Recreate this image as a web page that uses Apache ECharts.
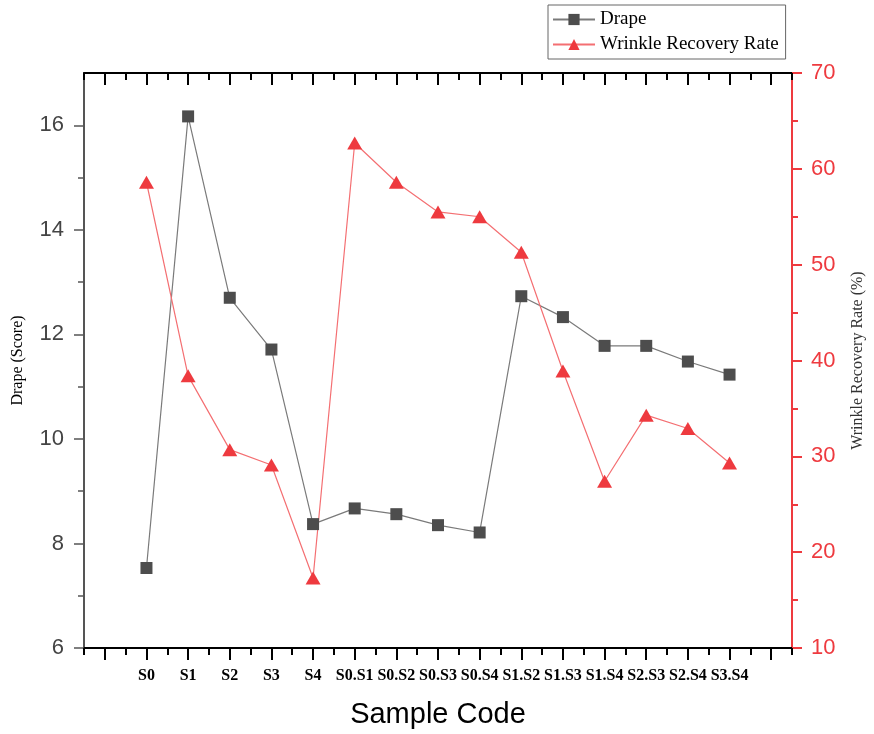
<!DOCTYPE html>
<html>
<head>
<meta charset="utf-8">
<script src="https://cdn.jsdelivr.net/npm/echarts@6/dist/echarts.min.js"></script>
<style>html,body{margin:0;padding:0;background:#fff;}#c{width:874px;height:734px;}</style>
</head>
<body>
<div id="c"></div>
<script>
const categories = ['S0','S1','S2','S3','S4','S0.S1','S0.S2','S0.S3','S0.S4','S1.S2','S1.S3','S1.S4','S2.S3','S2.S4','S3.S4'];
const drape = [7.53,16.17,12.70,11.71,8.37,8.67,8.56,8.35,8.21,12.73,12.33,11.78,11.78,11.48,11.23];
const wrinkle = [58.6,38.4,30.7,29.1,17.3,62.7,58.6,55.5,55.0,51.3,38.9,27.4,34.3,32.9,29.3];
const leftTicks = [6,8,10,12,14,16];
const leftMinor = [7,9,11,13,15];

const cats = [''].concat(categories, [' ']);
const pad = a => [null].concat(a, [null]);

const chart = echarts.init(document.getElementById('c'), null, {renderer:'canvas'});
const xBase = {type:'category', data:cats, boundaryGap:true};
chart.setOption({
  animation:false,
  backgroundColor:'#fff',
  grid:{left:84, right:75, top:73, bottom:84, containLabel:false},
  legend:{
    orient:'vertical', left:548, top:5,
    borderColor:'#666', borderWidth:1, padding:[5,7,5,4], itemGap:6,
    itemWidth:42, itemHeight:14,
    textStyle:{fontFamily:'Liberation Serif', fontSize:19, color:'#000'},
    data:['Drape','Wrinkle Recovery Rate']
  },
  xAxis:[
    Object.assign({}, xBase, {position:'bottom',
      axisLine:{lineStyle:{color:'#000', width:2}},
      axisTick:{show:true, alignWithLabel:true, interval:0, length:12, inside:false, lineStyle:{color:'#000', width:2}},
      axisLabel:{interval:0, margin:20, fontFamily:'Liberation Serif', fontWeight:'bold', fontSize:16, color:'#000'},
      name:'Sample Code', nameLocation:'middle', nameGap:52,
      nameTextStyle:{fontFamily:'Liberation Sans', fontSize:29, color:'#000'},
      splitLine:{show:false}}),
    Object.assign({}, xBase, {position:'bottom',
      axisLine:{show:false},
      axisTick:{show:true, interval:0, length:7, lineStyle:{color:'#000', width:2}},
      axisLabel:{show:false}, splitLine:{show:false}}),
    Object.assign({}, xBase, {position:'top',
      axisLine:{lineStyle:{color:'#000', width:2}},
      axisTick:{show:true, alignWithLabel:true, interval:0, length:12, inside:true, lineStyle:{color:'#000', width:2}},
      axisLabel:{show:false}, splitLine:{show:false}}),
    Object.assign({}, xBase, {position:'top',
      axisLine:{show:false},
      axisTick:{show:true, interval:0, length:7, inside:true, lineStyle:{color:'#000', width:2}},
      axisLabel:{show:false}, splitLine:{show:false}})
  ],
  yAxis:[
    {type:'value', position:'left', min:6, max:17,
      axisLine:{show:true, lineStyle:{color:'#555', width:2}},
      axisTick:{show:true, length:10, customValues:leftTicks, lineStyle:{color:'#555', width:1.5}},
      axisLabel:{margin:20, customValues:leftTicks, fontFamily:'Liberation Sans', fontSize:22, color:'#444'},
      splitLine:{show:false},
      name:'Drape (Score)', nameLocation:'middle', nameGap:58, nameRotate:90,
      nameTextStyle:{fontFamily:'Liberation Serif', fontSize:16, color:'#000'}},
    {type:'value', position:'right', min:10, max:70, interval:10,
      axisLine:{show:true, lineStyle:{color:'#ee3a3f', width:2}},
      axisTick:{show:true, length:10, lineStyle:{color:'#ee3a3f', width:2}},
      minorTick:{show:true, splitNumber:2, length:6, lineStyle:{color:'#ee3a3f', width:2}},
      axisLabel:{margin:19, fontFamily:'Liberation Sans', fontSize:22, color:'#ee3a3f'},
      splitLine:{show:false},
      name:'Wrinkle Recovery Rate (%)', nameLocation:'middle', nameGap:58, nameRotate:90,
      nameTextStyle:{fontFamily:'Liberation Serif', fontSize:16, color:'#333'}},
    {type:'value', position:'left', min:6, max:17,
      axisLine:{show:false},
      axisTick:{show:true, length:6, customValues:leftMinor, lineStyle:{color:'#555', width:1.5}},
      axisLabel:{show:false}, splitLine:{show:false}}
  ],
  series:[
    {name:'Drape', type:'line', xAxisIndex:0, yAxisIndex:0, data:pad(drape),
      symbol:'rect', symbolSize:12, showAllSymbol:true,
      itemStyle:{color:'#4d4d4d'}, lineStyle:{color:'#7a7a7a', width:1.2}},
    {name:'Wrinkle Recovery Rate', type:'line', xAxisIndex:0, yAxisIndex:1, data:pad(wrinkle),
      symbol:'triangle', symbolSize:[15,13], showAllSymbol:true,
      itemStyle:{color:'#ee3a3f'}, lineStyle:{color:'#f46f72', width:1.2}}
  ]
});
</script>
</body>
</html>
